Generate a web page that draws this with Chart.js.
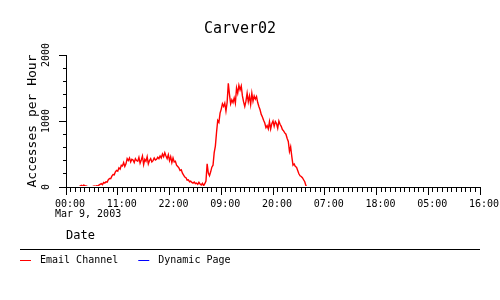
<!DOCTYPE html>
<html><head><meta charset="utf-8">
<script src="https://cdn.jsdelivr.net/npm/chart.js@4/dist/chart.umd.min.js"></script>
<style>html,body{margin:0;padding:0;background:#fff}#wrap{width:500px;height:300px}</style>
</head><body><div id="wrap"><canvas id="c" width="500" height="300"></canvas></div>
<script>
const chartTitle = 'Carver02';
const yAxisTitle = 'Accesses per Hour';
const xAxisTitle = 'Date';
const startDateLabel = 'Mar 9, 2003';
const seriesNames = ['Email Channel', 'Dynamic Page'];
const seriesColors = ['#ff0000', '#0000ff'];
const xRangeHours = [0, 88];
const xMajorEveryHours = 11;
const yRange = [0, 2000];
const yMajorEvery = 1000;
const sampleStepHours = 0.25;
const emailValues = [
  0,0,0,0,0,0,0,0,0,0,0,0,
  15,25,10,30,20,15,10,
  0,0,0,0,
  10,15,10,20,15,30,40,
  50,35,70,60,80,75,110,130,125,165,190,185,230,250,240,
  290,270,330,320,370,310,350,430,
  400,440,380,420,410,370,430,400,390,450,360,410,470,340,420,390,460,350,400,430,380,400,440,410,420,450,430,470,440,500,460,520,
  470,430,490,400,460,370,440,380,
  390,330,310,290,250,260,210,180,150,140,105,110,80,90,70,60,75,50,
  60,40,70,45,30,55,20,50,90,
  350,210,170,230,300,330,520,620,830,1010,980,
  1120,1180,1260,1220,1270,1150,1280,1570,1400,1260,1320,1280,1350,1270,1500,1420,1540,1470,1530,1380,
  1290,1220,1300,1420,1290,1380,1250,1420,1300,1380,1330,1370,1280,1220,1170,1100,1060,1010,970,
  900,930,880,990,880,960,1000,920,990,960,890,1000,950,920,870,850,820,800,740,690,
  540,610,460,330,350,310,300,250,200,170,160,140,110,80,20,0
];
const dynamicValues = [];

const MONO = '"DejaVu Sans Mono", "Liberation Mono", monospace';
function hourLabel(v) {
  const h = ((v % 24) + 24) % 24;
  return (h < 10 ? '0' : '') + h + ':00';
}
function toPoints(values) {
  return values.map((v, i) => ({ x: xRangeHours[0] + i * sampleStepHours, y: v }));
}

const extrasPlugin = {
  id: 'extras',
  afterDraw(chart) {
    const ctx = chart.ctx;
    const xs = chart.scales.x;
    ctx.save();
    ctx.fillStyle = '#000';
    ctx.font = '10px ' + MONO;
    ctx.textBaseline = 'middle';
    ctx.textAlign = 'left';
    const firstCenter = xs.getPixelForValue(xRangeHours[0]) + xs.options.ticks.labelOffset;
    const w0 = ctx.measureText(hourLabel(xRangeHours[0])).width;
    ctx.fillText(startDateLabel, firstCenter - w0 / 2, 214);
    ctx.strokeStyle = '#000';
    ctx.lineWidth = 1;
    ctx.beginPath();
    ctx.moveTo(20, 249.5);
    ctx.lineTo(480, 249.5);
    ctx.stroke();
    let x = 20;
    const y = 260;
    chart.data.datasets.forEach(ds => {
      ctx.strokeStyle = ds.borderColor;
      ctx.beginPath();
      ctx.moveTo(x, y + 0.5);
      ctx.lineTo(x + 11, y + 0.5);
      ctx.stroke();
      ctx.fillStyle = '#000';
      ctx.fillText(ds.label, x + 20, y);
      x += 20 + ctx.measureText(ds.label).width + 20;
    });
    ctx.restore();
  }
};

new Chart(document.getElementById('c'), {
  type: 'line',
  data: {
    datasets: [
      { label: seriesNames[0], data: toPoints(emailValues), borderColor: seriesColors[0], backgroundColor: seriesColors[0], borderWidth: 1.4, pointRadius: 0, tension: 0, fill: false, clip: { left: 2, top: 2, right: 2, bottom: -1 } },
      { label: seriesNames[1], data: toPoints(dynamicValues), borderColor: seriesColors[1], backgroundColor: seriesColors[1], borderWidth: 1.4, pointRadius: 0, tension: 0, fill: false, clip: { left: 2, top: 2, right: 2, bottom: -1 } }
    ]
  },
  plugins: [extrasPlugin],
  options: {
    responsive: false,
    animation: false,
    events: [],
    layout: { padding: { left: 0, right: 20, top: 0, bottom: 53 } },
    plugins: {
      legend: { display: false },
      tooltip: { enabled: false },
      title: {
        display: true, text: chartTitle, color: '#000',
        font: { family: MONO, size: 15, weight: 'normal' },
        padding: { top: 20, bottom: 17 }
      }
    },
    scales: {
      x: {
        type: 'linear', min: xRangeHours[0], max: xRangeHours[1], z: 1,
        afterFit: s => { s.height = 60; },
        border: { display: true, color: '#000', width: 1 },
        grid: {
          display: true, drawOnChartArea: false, drawTicks: true, tickLength: 8, tickColor: '#000', tickWidth: 1,
          tickBorderDash: c => (c.tick && c.tick.value % xMajorEveryHours === 0) ? [] : [4, 100],
          tickBorderDashOffset: 0
        },
        ticks: {
          stepSize: 1, autoSkip: false, maxRotation: 0, minRotation: 0, labelOffset: 4, padding: 3,
          color: '#000', font: { family: MONO, size: 10 },
          callback: v => (v % xMajorEveryHours === 0 ? hourLabel(v) : '')
        },
        title: { display: true, text: xAxisTitle, align: 'start', color: '#000', font: { family: MONO, size: 12 }, padding: { top: 4, bottom: 4 } }
      },
      y: {
        min: yRange[0], max: yRange[1], z: 1,
        afterFit: s => { s.width = 66; },
        border: { display: true, color: '#000', width: 1 },
        grid: {
          display: true, drawOnChartArea: false, drawTicks: true, tickLength: 7, tickColor: '#000', tickWidth: 1,
          tickBorderDash: c => (c.tick && c.tick.value % yMajorEvery === 0) ? [] : [3, 100],
          tickBorderDashOffset: c => (c.tick && c.tick.value % yMajorEvery === 0) ? 0 : 99
        },
        ticks: {
          stepSize: 200, autoSkip: false, minRotation: 90, maxRotation: 90, crossAlign: 'center', padding: 1,
          color: '#000', font: { family: MONO, size: 10 },
          callback: v => (v % yMajorEvery === 0 ? String(v) : '')
        },
        title: { display: true, text: yAxisTitle, color: '#000', font: { family: MONO, size: 13 }, padding: { top: 25, bottom: 0 } }
      }
    }
  }
});
</script>
</body></html>
